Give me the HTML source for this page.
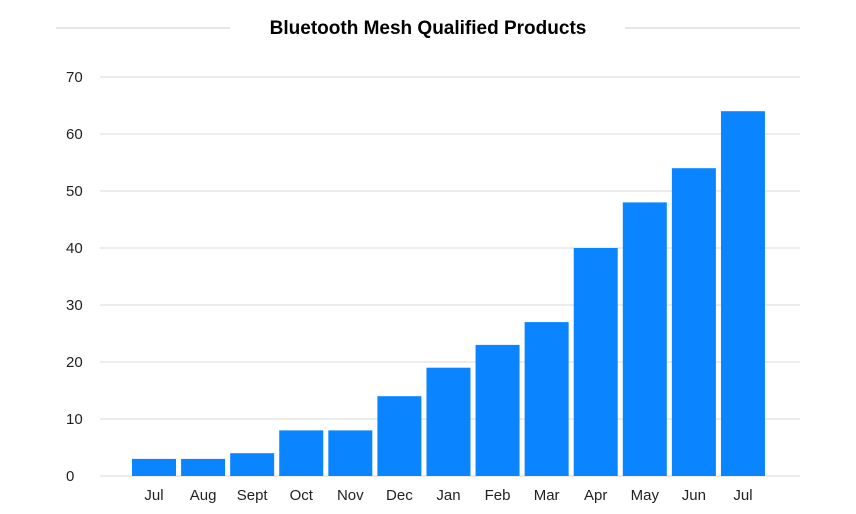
<!DOCTYPE html>
<html><head><meta charset="utf-8"><style>
body{margin:0;background:#fff;}
svg{display:block;font-family:"Liberation Sans",sans-serif;}
</style></head><body>
<svg id="chart" width="856" height="514">
<line x1="56" y1="28" x2="230" y2="28" stroke="#ccc" stroke-width="1"/>
<line x1="625" y1="28" x2="800" y2="28" stroke="#ccc" stroke-width="1"/>
<text x="428" y="34" text-anchor="middle" font-size="19" font-weight="bold" fill="#000">Bluetooth Mesh Qualified Products</text>
<g id="grid"></g><g id="bars"></g><g id="xl"></g>
</svg>
<script>
const categories=["Jul","Aug","Sept","Oct","Nov","Dec","Jan","Feb","Mar","Apr","May","Jun","Jul"];
const values=[3,3,4,8,8,14,19,23,27,40,48,54,64];
const yTicks=[0,10,20,30,40,50,60,70];
const NS="http://www.w3.org/2000/svg";
const y0=476,pxPer=57/10;
function yScale(v){return y0-v*pxPer;}
function xScale(i){return 132+i*49.08;}
const bw=44;
const grid=document.getElementById('grid');
yTicks.forEach(t=>{
  const l=document.createElementNS(NS,'line');
  l.setAttribute('x1',100);l.setAttribute('x2',800);
  l.setAttribute('y1',yScale(t));l.setAttribute('y2',yScale(t));
  l.setAttribute('stroke','#d9d9d9');l.setAttribute('stroke-width','1');
  
  
  grid.appendChild(l);
  const tx=document.createElementNS(NS,'text');
  tx.setAttribute('x',66);tx.setAttribute('y',yScale(t)+5);
  tx.setAttribute('font-size','15');tx.setAttribute('fill','#222');
  tx.textContent=t;
  
  
  grid.appendChild(tx);
});
const bars=document.getElementById('bars'),xl=document.getElementById('xl');
values.forEach((v,i)=>{
  const r=document.createElementNS(NS,'rect');
  r.setAttribute('x',xScale(i));r.setAttribute('width',bw);
  r.setAttribute('y',yScale(v));r.setAttribute('height',y0-yScale(v));
  r.setAttribute('fill','#0a84ff');
  
  
  bars.appendChild(r);
  const tx=document.createElementNS(NS,'text');
  tx.setAttribute('x',xScale(i)+bw/2);tx.setAttribute('y',500);
  tx.setAttribute('text-anchor','middle');tx.setAttribute('font-size','15');tx.setAttribute('fill','#222');
  tx.textContent=categories[i];
  
  
  xl.appendChild(tx);
});
</script>
</body></html>
